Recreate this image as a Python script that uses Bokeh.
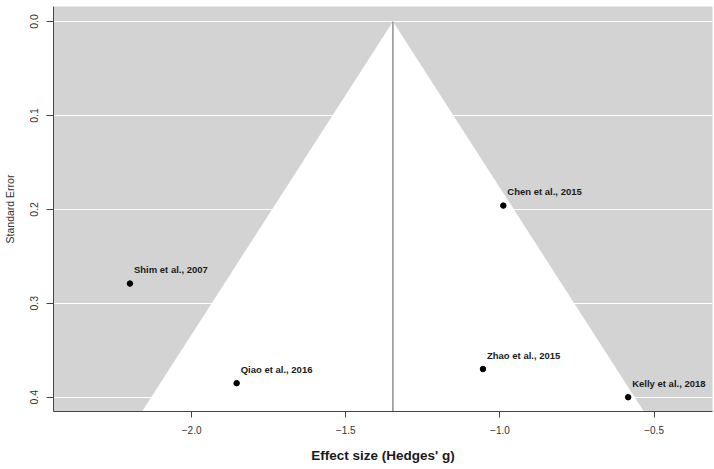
from bokeh.plotting import figure
from bokeh.models import Range1d, FixedTicker, CustomJSTickFormatter, ColumnDataSource
from bokeh.core.properties import value
from bokeh.embed import file_html
from bokeh.resources import INLINE

# ---- data ----
studies = ["Shim et al., 2007", "Qiao et al., 2016", "Chen et al., 2015",
           "Zhao et al., 2015", "Kelly et al., 2018"]
effect = [-2.200, -1.854, -0.989, -1.055, -0.584]
std_err = [0.279, 0.385, 0.196, 0.370, 0.400]
pooled = -1.347
x_ticks = [-2.0, -1.5, -1.0, -0.5]
y_ticks = [0.0, 0.1, 0.2, 0.3, 0.4]

FONT = "Liberation Sans"

p = figure(width=714, height=469, output_backend="svg", toolbar_location=None,
           x_range=Range1d(-2.448, -0.3105), y_range=Range1d(0.4152, -0.016),
           min_border_left=52, min_border_right=2, min_border_top=6,
           min_border_bottom=58)
p.background_fill_color = "#d3d3d3"
p.border_fill_color = "white"
p.outline_line_color = None

# grid: white horizontal lines only
p.xgrid.visible = False
p.ygrid.ticker = FixedTicker(ticks=y_ticks)
p.ygrid.grid_line_color = "white"
p.ygrid.grid_line_width = 1

# funnel (white pseudo-confidence region)
se_far = 0.6
funnel = ColumnDataSource(dict(
    x=[pooled - 1.96 * se_far, pooled, pooled + 1.96 * se_far],
    y=[se_far, 0.0, se_far]))
p.patch("x", "y", source=funnel, fill_color="white", line_color=None)

# vertical line at the pooled estimate
p.segment(x0=[pooled], y0=[0.0], x1=[pooled], y1=[se_far], line_color="#555555", line_width=1)

src = ColumnDataSource(dict(x=effect, y=std_err, name=studies))
p.scatter("x", "y", source=src, size=5.5, fill_color="black", line_color="black")
p.text("x", "y", text="name", source=src, x_offset=4, y_offset=-14,
       text_font=value(FONT), text_font_style="bold", text_font_size="9.5px",
       text_color="#1a1a1a", text_baseline="middle", text_align="left")

# axes
for ax in (p.xaxis[0], p.yaxis[0]):
    ax.axis_line_color = "#444444"
    ax.major_tick_line_color = "#444444"
    ax.minor_tick_line_color = None
    ax.major_tick_in = 0
    ax.major_label_text_font = FONT
    ax.major_label_text_color = "#333333"
    ax.axis_label_text_font = FONT

p.xaxis.ticker = FixedTicker(ticks=x_ticks)
p.xaxis.formatter = CustomJSTickFormatter(code="return tick.toFixed(1).replace('-', '\u2212');")
p.xaxis.major_tick_out = 6
p.xaxis.major_label_standoff = 8
p.xaxis.major_label_text_font_size = "10px"
p.xaxis.axis_label = "Effect size (Hedges' g)"
p.xaxis.axis_label_text_font_size = "13.5px"
p.xaxis.axis_label_text_font_style = "bold"
p.xaxis.axis_label_text_color = "#1a1a1a"
p.xaxis.axis_label_standoff = 11

p.yaxis.ticker = FixedTicker(ticks=y_ticks)
p.yaxis.formatter = CustomJSTickFormatter(code="return tick.toFixed(1);")
p.yaxis.major_tick_out = 7
p.yaxis.major_label_standoff = 8
p.yaxis.major_label_orientation = "parallel"
p.yaxis.major_label_text_font_size = "10.5px"
p.yaxis.axis_label = "Standard Error"
p.yaxis.axis_label_text_font_size = "10.5px"
p.yaxis.axis_label_text_font_style = "normal"
p.yaxis.axis_label_text_color = "#333333"
p.yaxis.axis_label_standoff = 12

open("out.html", "w").write(file_html(p, INLINE))
